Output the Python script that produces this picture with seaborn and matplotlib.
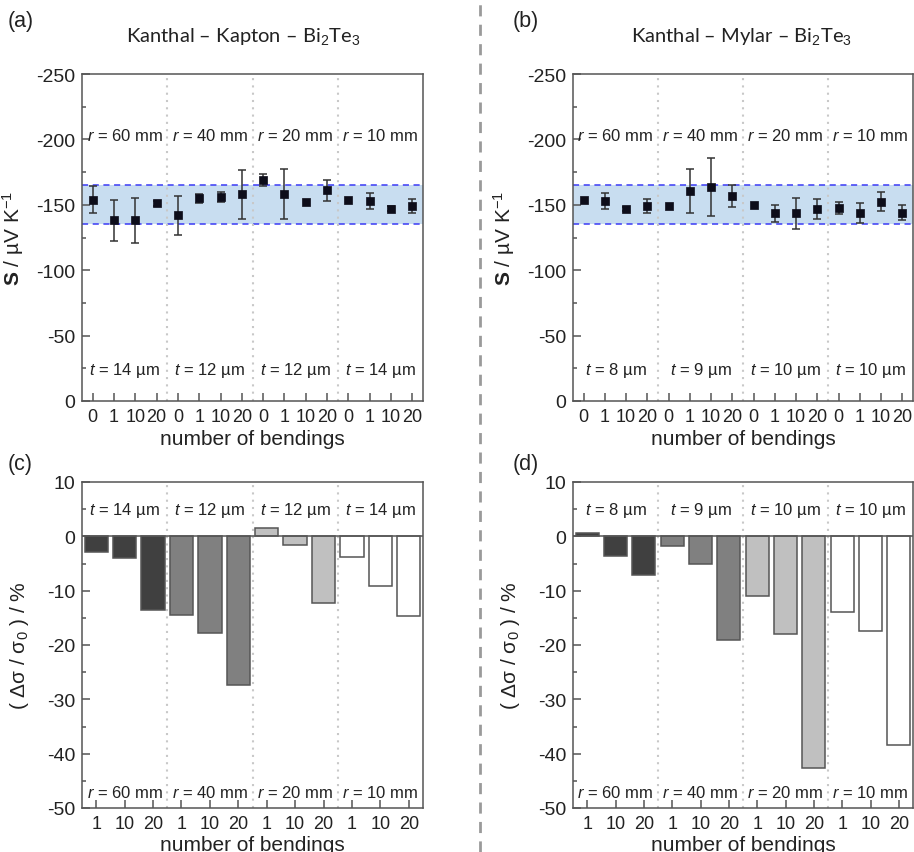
import numpy as np
import pandas as pd
import matplotlib.pyplot as plt
import seaborn as sns
from matplotlib.lines import Line2D
from matplotlib.ticker import MultipleLocator

# bending radii / film thickness per group
radius_labels = ["60 mm", "40 mm", "20 mm", "10 mm"]
t_kapton = ["14 µm", "12 µm", "12 µm", "14 µm"]
t_mylar = ["8 µm", "9 µm", "10 µm", "10 µm"]
bend_ticks_s = ["0", "1", "10", "20"]
bend_ticks_d = ["1", "10", "20"]

# Seebeck coefficient (µV/K), 4 groups x (0, 1, 10, 20) bendings
s_kapton = [-154, -138, -138, -151, -142, -155, -156, -158,
            -169, -158, -152, -161, -153.5, -153, -147, -149]
s_kapton_err = [10.5, 16, 17.5, 2, 15, 3.5, 3.5, 18.5,
                4.5, 19, 0, 8, 0, 6, 2, 5.5]
s_mylar = [-153.5, -153, -147, -149, -149, -160.5, -163.5, -156.5,
           -149.5, -143.5, -143.5, -146.5, -147.5, -143.5, -152.5, -144]
s_mylar_err = [0, 6.3, 1.5, 5.5, 0, 17, 22, 8.5,
               0, 6.3, 11.7, 7.7, 4.3, 7.6, 7, 6]
band_low, band_high = -165.5, -135.5

# relative conductivity change (%), 4 groups x (1, 10, 20) bendings
d_kapton = [-2.9, -3.9, -13.6, -14.4, -17.8, -27.3,
            1.6, -1.6, -12.2, -3.8, -9.1, -14.6]
d_mylar = [0.7, -3.6, -7.2, -1.7, -5.1, -19.1,
           -10.9, -18.0, -42.6, -14.0, -17.4, -38.4]
group_colors = ["#404040", "#808080", "#c0c0c0", "#ffffff"]

sns.set_theme(style="ticks")
plt.rcParams["font.family"] = ["Liberation Sans", "DejaVu Sans"]
plt.rcParams["mathtext.fontset"] = "custom"
plt.rcParams["mathtext.rm"] = "Liberation Sans"
plt.rcParams["mathtext.it"] = "Liberation Sans:italic"
plt.rcParams["mathtext.bf"] = "Liberation Sans:bold"
plt.rcParams["axes.unicode_minus"] = False

W, H = 914, 853
fig = plt.figure(figsize=(W / 100, H / 100), dpi=100)


def box(x0, y0, x1, y1):
    return [x0 / W, 1 - y1 / H, (x1 - x0) / W, (y1 - y0) / H]


ax_a = fig.add_axes(box(82, 75, 423, 402))
ax_b = fig.add_axes(box(573, 75, 913, 402))
ax_c = fig.add_axes(box(82, 483, 423, 809))
ax_d = fig.add_axes(box(573, 483, 913, 809))

spine_col = "#555555"
txt_col = "#222222"


def style_axes(ax):
    for sp in ax.spines.values():
        sp.set_visible(True)
        sp.set_color(spine_col)
        sp.set_linewidth(1.1)
    ax.tick_params(axis="both", which="both", direction="in", color=spine_col,
                   top=False, right=False, labelsize=14, pad=5, labelcolor=txt_col)
    ax.tick_params(axis="x", labelsize=13, length=6, width=1.1)
    ax.tick_params(axis="y", which="major", length=6, width=1.1)
    ax.tick_params(axis="y", which="minor", length=3, width=1.1)


def seebeck_panel(ax, vals, errs, thick):
    n = len(vals)
    df = pd.DataFrame({"pos": np.arange(n), "S": vals, "err": errs})
    ax.axhspan(band_low, band_high, color="#c8ddf0", zorder=0, lw=0)
    for yv in (band_low, band_high):
        ax.axhline(yv, color="#3a3af5", ls=(0, (4, 3)), lw=1.1, zorder=1)
    for xs in (3.5, 7.5, 11.5):
        ax.axvline(xs, color="#c8c8c8", ls=(0, (1, 2.5)), lw=1.5, zorder=1)
    has_err = df[df["err"] > 0]
    ax.errorbar(has_err["pos"], has_err["S"], yerr=has_err["err"], fmt="none",
                ecolor="#333333", elinewidth=1.1, capsize=3, capthick=1.1, zorder=2)
    sns.scatterplot(data=df, x="pos", y="S", marker="s", s=38, color="#0d0d1a",
                    edgecolor="#0d0d1a", linewidth=0.5, ax=ax, zorder=3, legend=False)
    ax.set_xlim(-0.5, n - 0.5)
    ax.set_ylim(0, -250)
    ax.set_xticks(np.arange(n))
    ax.set_xticklabels(bend_ticks_s * 4)
    ax.yaxis.set_major_locator(MultipleLocator(50))
    ax.yaxis.set_minor_locator(MultipleLocator(25))
    style_axes(ax)
    for i in range(4):
        ax.text(1.5 + 4 * i, -203, r"$\it{r}$ = " + radius_labels[i], ha="center",
                va="center", fontsize=12, color=txt_col)
        ax.text(1.5 + 4 * i, -24, r"$\it{t}$ = " + thick[i], ha="center",
                va="center", fontsize=12, color=txt_col)
    ax.set_xlabel("number of bendings", fontsize=15, labelpad=3, color=txt_col)
    ax.set_ylabel(r"$\mathbf{S}$ / µV K$^{-1}$", fontsize=15, color=txt_col)
    ax.yaxis.set_label_coords(-0.165, 0.5)


def delta_panel(ax, vals, thick):
    n = len(vals)
    df = pd.DataFrame({"pos": np.arange(n), "d": vals,
                       "grp": [radius_labels[i // 3] for i in range(n)]})
    for xs in (2.5, 5.5, 8.5):
        ax.axvline(xs, color="#c8c8c8", ls=(0, (1, 2.5)), lw=1.5, zorder=0)
    sns.barplot(data=df, x="pos", y="d", hue="grp", hue_order=radius_labels,
                palette=group_colors, dodge=False, width=0.82, edgecolor="#555555",
                linewidth=1.1, ax=ax, legend=False, zorder=2)
    ax.axhline(0, color="#555555", lw=1.1, zorder=3)
    ax.set_xlim(-0.5, n - 0.5)
    ax.set_ylim(-50, 10)
    ax.set_xticks(np.arange(n))
    ax.set_xticklabels(bend_ticks_d * 4)
    ax.yaxis.set_major_locator(MultipleLocator(10))
    ax.yaxis.set_minor_locator(MultipleLocator(5))
    style_axes(ax)
    for i in range(4):
        ax.text(1 + 3 * i, 4.9, r"$\it{t}$ = " + thick[i], ha="center",
                va="center", fontsize=12, color=txt_col)
        ax.text(1 + 3 * i, -47.1, r"$\it{r}$ = " + radius_labels[i], ha="center",
                va="center", fontsize=12, color=txt_col)
    ax.set_xlabel("number of bendings", fontsize=15, labelpad=2, color=txt_col)
    ax.set_ylabel(r"( Δσ / σ$_{0}$ ) / %", fontsize=15, color=txt_col)
    ax.yaxis.set_label_coords(-0.15, 0.5)


seebeck_panel(ax_a, s_kapton, s_kapton_err, t_kapton)
seebeck_panel(ax_b, s_mylar, s_mylar_err, t_mylar)
delta_panel(ax_c, d_kapton, t_kapton)
delta_panel(ax_d, d_mylar, t_mylar)

# titles and panel letters
fig.text(243 / W, 1 - 37 / H, "Kanthal – Kapton – Bi$_2$Te$_3$", ha="center", va="center",
         fontsize=14.5, family=["Lato", "DejaVu Sans"], color=txt_col)
fig.text(742 / W, 1 - 37 / H, "Kanthal – Mylar – Bi$_2$Te$_3$", ha="center", va="center",
         fontsize=14.5, family=["Lato", "DejaVu Sans"], color=txt_col)
for lab, xp, yp in [("(a)", 8, 22), ("(b)", 513, 22), ("(c)", 8, 465), ("(d)", 513, 465)]:
    fig.text(xp / W, 1 - yp / H, lab, ha="left", va="center", fontsize=15.5, color=txt_col)

fig.add_artist(Line2D([480 / W, 480 / W], [0, 1], transform=fig.transFigure,
                      color="#9a9a9a", ls=(0, (4, 3)), lw=2))

fig.savefig("out.png", dpi=100)
